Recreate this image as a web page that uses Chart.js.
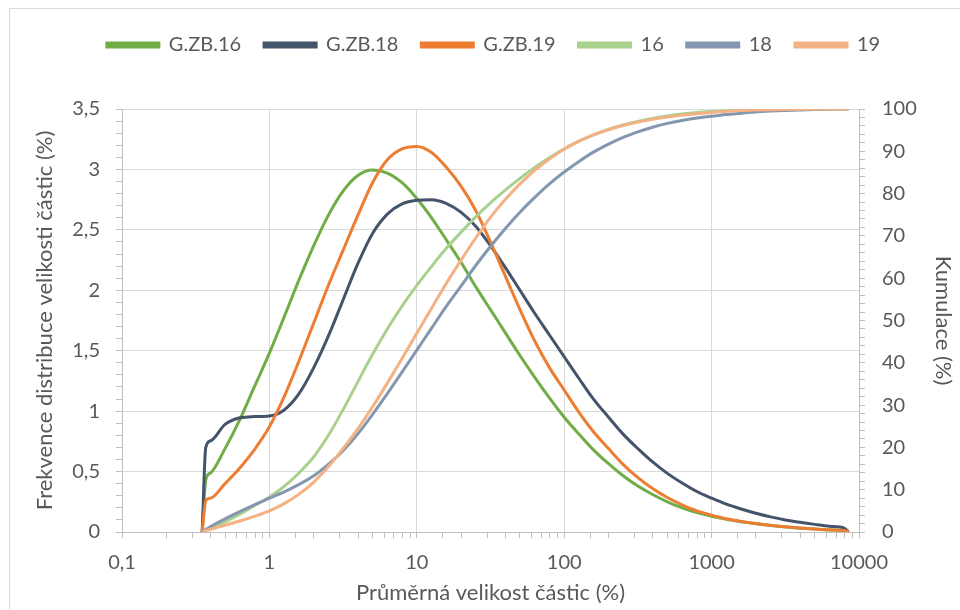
<!DOCTYPE html>
<html>
<head>
<meta charset="utf-8">
<script src="https://cdn.jsdelivr.net/npm/chart.js@4.4.1/dist/chart.umd.min.js"></script>
<style>
  html, body { margin: 0; padding: 0; background: #fff; }
  #wrap { width: 960px; height: 610px; position: relative; }
</style>
</head>
<body>
<div id="wrap"><canvas id="chart" width="960" height="610"></canvas></div>
<script>
// Velikosti částic (osa x, logaritmická)
const sizes = [0.35, 0.37, 0.4, 0.5, 0.63, 0.79, 1, 1.26, 1.58, 2, 2.51, 3.16, 3.98, 5.01, 6.31, 7.94,
               10, 12.6, 15.8, 20, 25.1, 31.6, 39.8, 50.1, 63.1, 79.4, 100, 126, 158, 200, 251, 316, 398,
               501, 631, 794, 1000, 1259, 1585, 1995, 2512, 3162, 3981, 5012, 6310, 7943, 8500];

// Frekvence (%) - levá osa
const freqZB16 = [0, 0.43, 0.49, 0.69, 0.93, 1.20, 1.48, 1.78, 2.08, 2.37, 2.62, 2.82, 2.95, 2.995, 2.97, 2.89,
                  2.76, 2.60, 2.42, 2.23, 2.03, 1.84, 1.65, 1.46, 1.28, 1.11, 0.95, 0.81, 0.68, 0.565, 0.465, 0.38, 0.31,
                  0.25, 0.20, 0.16, 0.13, 0.105, 0.085, 0.068, 0.054, 0.042, 0.032, 0.024, 0.017, 0.011, 0];
const freqZB18 = [0, 0.70, 0.755, 0.89, 0.945, 0.955, 0.96, 1.01, 1.14, 1.36, 1.62, 1.92, 2.22, 2.47, 2.63, 2.715,
                  2.745, 2.75, 2.72, 2.645, 2.53, 2.37, 2.19, 2.0, 1.81, 1.63, 1.45, 1.27, 1.10, 0.95, 0.81, 0.69, 0.58,
                  0.485, 0.405, 0.335, 0.28, 0.23, 0.19, 0.155, 0.125, 0.10, 0.08, 0.063, 0.048, 0.032, 0];
const freqZB19 = [0, 0.26, 0.28, 0.40, 0.53, 0.68, 0.87, 1.12, 1.41, 1.73, 2.04, 2.33, 2.62, 2.89, 3.08, 3.17,
                  3.19, 3.14, 3.02, 2.86, 2.66, 2.40, 2.12, 1.84, 1.58, 1.36, 1.175, 0.99, 0.83, 0.69, 0.56, 0.45, 0.36,
                  0.285, 0.225, 0.175, 0.14, 0.11, 0.088, 0.07, 0.055, 0.043, 0.033, 0.025, 0.018, 0.012, 0];

// Kumulace (%) - pravá osa
const cum16 = [0, 0.3, 0.8, 2.4, 4.2, 6.2, 8.3, 10.8, 13.9, 17.8, 22.8, 28.9, 35.5, 42.0, 48.0, 53.4,
               58.3, 62.8, 67.0, 70.9, 74.5, 77.8, 80.8, 83.6, 86.2, 88.5, 90.6, 92.4, 93.9, 95.2, 96.2, 97.05, 97.75,
               98.35, 98.8, 99.15, 99.4, 99.6, 99.75, 99.85, 99.92, 99.96, 99.98, 100, 100, 100, 100];
const cum18 = [0, 0.6, 1.3, 3.1, 4.8, 6.4, 8.0, 9.5, 11.2, 13.3, 16.0, 19.2, 23.2, 27.8, 32.7, 37.8,
               43.0, 48.2, 53.3, 58.2, 63.0, 67.5, 71.7, 75.6, 79.1, 82.3, 85.1, 87.6, 89.8, 91.7, 93.3, 94.6, 95.7,
               96.6, 97.3, 97.85, 98.3, 98.7, 99.0, 99.3, 99.5, 99.65, 99.78, 99.88, 99.95, 99.99, 100];
const cum19 = [0, 0.3, 0.65, 1.6, 2.6, 3.7, 5.0, 6.7, 8.9, 11.8, 15.4, 19.7, 24.4, 29.6, 35.2, 41.0,
               47.0, 52.9, 58.7, 64.3, 69.5, 74.4, 78.6, 82.3, 85.5, 88.2, 90.5, 92.4, 93.9, 95.1, 96.1, 96.9, 97.55,
               98.1, 98.55, 98.9, 99.2, 99.45, 99.62, 99.75, 99.85, 99.91, 99.95, 99.98, 100, 100, 100];

const seriesNames = ['G.ZB.16', 'G.ZB.18', 'G.ZB.19', '16', '18', '19'];
const seriesColors = ['#70AD47', '#44546A', '#ED7D31', '#A9D18E', '#8497B0', '#F4B183'];
const seriesValues = [freqZB16, freqZB18, freqZB19, cum16, cum18, cum19];
const seriesAxis = ['y', 'y', 'y', 'y2', 'y2', 'y2'];

const textColor = '#595959';
const gridColor = '#d9d9d9';
const axisColor = '#bfbfbf';
const fontFamily = 'Lato, "Open Sans", sans-serif';

// formát s desetinnou čárkou
function czNum(v) {
    return String(v).replace('.', ',');
}

function isDecade(v) {
    const e = Math.floor(Math.log10(v) + 1e-9);
    return Math.abs(v / Math.pow(10, e) - 1) < 1e-6;
}

// legenda - pevná výška, aby graf začínal na správném místě
const legendHeight = {
    id: 'legendHeight',
    beforeInit(chart) {
        const origFit = chart.legend.fit;
        chart.legend.fit = function () {
            origFit.bind(chart.legend)();
            this.height = 97;
        };
    }
};

// bílé pozadí a rámeček grafu
const frame = {
    id: 'frame',
    beforeDraw(chart) {
        const ctx = chart.ctx;
        ctx.save();
        ctx.fillStyle = '#fff';
        ctx.fillRect(0, 0, chart.width, chart.height);
        ctx.strokeStyle = gridColor;
        ctx.lineWidth = 1;
        ctx.strokeRect(9.5, 8.5, 1000, 1000);
        ctx.restore();
    }
};

const datasets = seriesNames.map((name, i) => ({
    label: name,
    data: sizes.map((x, j) => ({ x: x, y: seriesValues[i][j] })),
    borderColor: seriesColors[i],
    backgroundColor: seriesColors[i],
    borderWidth: 3,
    pointRadius: 0,
    cubicInterpolationMode: 'monotone',
    yAxisID: seriesAxis[i],
    order: seriesNames.length - i
}));

function initializeChart() {
    const ctx = document.getElementById('chart').getContext('2d');
    new Chart(ctx, {
        type: 'line',
        data: { datasets: datasets },
        plugins: [legendHeight, frame],
        options: {
            responsive: false,
            animation: false,
            layout: { padding: { left: 27, top: 12, right: 0, bottom: 0 } },
            plugins: {
                tooltip: { enabled: false },
                legend: {
                    position: 'top',
                    labels: {
                        boxWidth: 52,
                        boxHeight: 4,
                        padding: 23,
                        color: textColor,
                        font: { family: fontFamily, size: 20 },
                        sort: (a, b) => a.datasetIndex - b.datasetIndex
                    }
                }
            },
            scales: {
                x: {
                    type: 'logarithmic',
                    min: 0.1,
                    max: 10000,
                    afterFit: s => { s.height = 78; },
                    border: { color: axisColor },
                    grid: {
                        color: c => (c.tick && isDecade(c.tick.value) ? gridColor : 'rgba(0,0,0,0)'),
                        tickColor: axisColor,
                        tickLength: 6
                    },
                    ticks: {
                        autoSkip: false,
                        maxRotation: 0,
                        padding: 13,
                        color: textColor,
                        font: { family: fontFamily, size: 20 },
                        callback: v => (isDecade(v) ? czNum(v) : '')
                    },
                    title: {
                        display: true,
                        text: 'Průměrná velikost částic (%)',
                        color: textColor,
                        font: { family: fontFamily, size: 22 },
                        padding: { top: 0, bottom: 4 }
                    }
                },
                y: {
                    position: 'left',
                    min: 0,
                    max: 3.5,
                    afterFit: s => { s.width = 95; },
                    border: { color: axisColor },
                    grid: {
                        color: c => (c.tick && Math.round(c.tick.value * 10) % 5 === 0 ? gridColor : 'rgba(0,0,0,0)'),
                        tickColor: axisColor,
                        tickLength: 6
                    },
                    ticks: {
                        stepSize: 0.1,
                        autoSkip: false,
                        padding: 16,
                        color: textColor,
                        font: { family: fontFamily, size: 20 },
                        callback: v => (Math.round(v * 10) % 5 === 0 ? czNum(Math.round(v * 10) / 10) : '')
                    },
                    title: {
                        display: true,
                        text: 'Frekvence distribuce velikosti částic (%)',
                        color: textColor,
                        font: { family: fontFamily, size: 22 },
                        padding: { top: 5, bottom: 0 }
                    }
                },
                y2: {
                    position: 'right',
                    min: 0,
                    max: 100,
                    afterFit: s => { s.width = 101; },
                    border: { color: axisColor },
                    grid: {
                        drawOnChartArea: false,
                        tickColor: axisColor,
                        tickLength: 6
                    },
                    ticks: {
                        stepSize: 2,
                        autoSkip: false,
                        padding: 17,
                        color: textColor,
                        font: { family: fontFamily, size: 20 },
                        callback: v => (Math.round(v) % 10 === 0 ? String(Math.round(v)) : '')
                    },
                    title: {
                        display: true,
                        text: 'Kumulace (%)',
                        color: textColor,
                        font: { family: fontFamily, size: 22 },
                        padding: { top: 4, bottom: 0 }
                    }
                }
            }
        }
    });
}

initializeChart();
</script>
</body>
</html>
